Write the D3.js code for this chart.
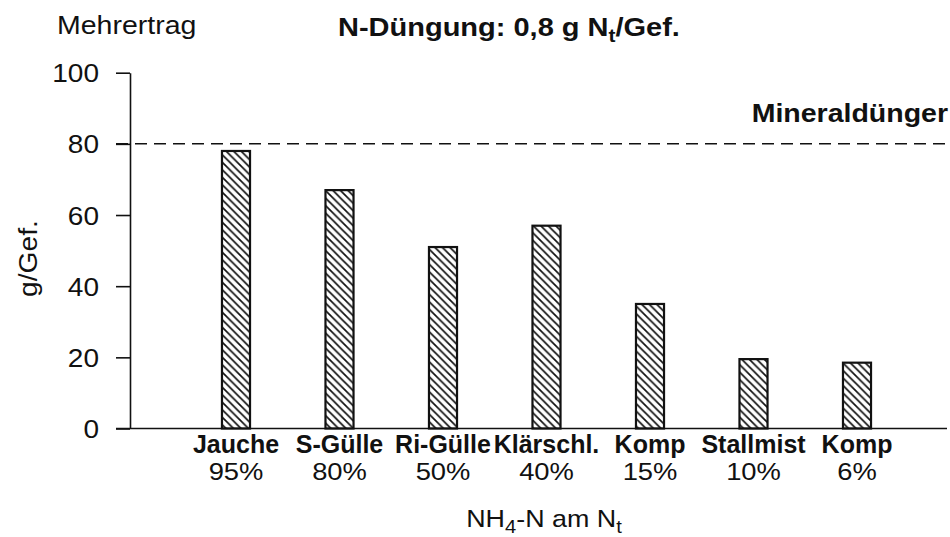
<!DOCTYPE html>
<html>
<head>
<meta charset="utf-8">
<script src="https://cdn.jsdelivr.net/npm/d3@7/dist/d3.min.js"></script>
<style>
  html, body { margin: 0; padding: 0; background: #fff; }
  svg { display: block; font-family: "Liberation Sans", Arial, Helvetica, sans-serif; }
</style>
</head>
<body>
<svg id="chart" width="950" height="537"></svg>
<script>
// Mehrertrag je Gefäß bei N-Düngung mit verschiedenen organischen Düngern
const categories = ["Jauche", "S-Gülle", "Ri-Gülle", "Klärschl.", "Komp", "Stallmist", "Komp"];
const nh4Shares = ["95%", "80%", "50%", "40%", "15%", "10%", "6%"];
const yieldGain = [78, 67, 51, 57, 35, 19.5, 18.5];
const mineralRef = 80;
const yTicks = [0, 20, 40, 60, 80, 100];

const svg = d3.select("#chart");
const INK = "#111";

const y = d3.scaleLinear().domain([0, 100]).range([428.5, 72.7]);
const x = d3.scaleBand()
  .domain(d3.range(categories.length))
  .range([184.25, 908.75])
  .paddingInner(0.729)
  .paddingOuter(0.3645);

// diagonal hatching for the bars
const H = 7.5;
const defs = svg.append("defs");
const pat = defs.append("pattern")
  .attr("id", "hatch")
  .attr("patternUnits", "userSpaceOnUse")
  .attr("width", H).attr("height", H);
pat.append("rect").attr("width", H).attr("height", H).attr("fill", "#fff");
pat.append("path")
  .attr("d", `M-1,-1 L${H + 1},${H + 1} M-1,${H - 1} L1,${H + 1} M${H - 1},-1 L${H + 1},1`)
  .attr("stroke", INK).attr("stroke-width", 1.7).attr("fill", "none");

// text helper with horizontal scaling
function label(parent, px, py, anchor, size, weight, sx) {
  return parent.append("text")
    .attr("transform", `translate(${px},${py}) scale(${sx},1)`)
    .attr("text-anchor", anchor)
    .attr("font-size", size)
    .attr("font-weight", weight)
    .attr("fill", INK);
}

// y axis
const yAxis = svg.append("g")
  .attr("transform", "translate(130,0)")
  .call(d3.axisLeft(y).tickValues(yTicks).tickSize(14).tickSizeOuter(0).tickPadding(0));
yAxis.select(".domain").attr("stroke", INK).attr("stroke-width", 1.6);
yAxis.selectAll(".tick line").attr("stroke", INK).attr("stroke-width", 1.6);
yAxis.selectAll(".tick text")
  .attr("x", 0).attr("dy", null)
  .attr("transform", "translate(-31,9) scale(1.12,1)")
  .attr("font-size", 25)
  .attr("font-family", "Liberation Sans, Arial, sans-serif")
  .attr("fill", INK);

// bars
svg.append("g").selectAll("rect")
  .data(yieldGain)
  .join("rect")
  .attr("x", (d, i) => x(i))
  .attr("y", d => y(d))
  .attr("width", x.bandwidth())
  .attr("height", d => y(0) - y(d))
  .attr("fill", "url(#hatch)")
  .attr("stroke", INK)
  .attr("stroke-width", 2.2);

// x axis baseline
svg.append("line")
  .attr("x1", 116).attr("x2", 947)
  .attr("y1", y(0)).attr("y2", y(0))
  .attr("stroke", INK).attr("stroke-width", 1.6);

// mineral fertilizer reference
svg.append("line")
  .attr("x1", 116).attr("x2", 950)
  .attr("y1", y(mineralRef)).attr("y2", y(mineralRef))
  .attr("stroke", INK).attr("stroke-width", 1.5)
  .attr("stroke-dasharray", "12,7");
label(svg, 948, 122, "end", 25, "bold", 1.14).text("Mineraldünger");

// category labels and NH4 shares
categories.forEach((c, i) => {
  const cx = x(i) + x.bandwidth() / 2;
  label(svg, cx, 453, "middle", 25, "bold", 1.0).text(c);
  label(svg, cx, 480, "middle", 24, "normal", 1.14).text(nh4Shares[i]);
});

// headings
label(svg, 57, 34, "start", 25, "normal", 1.14).text("Mehrertrag");

const title = label(svg, 338, 36, "start", 25, "bold", 1.16);
title.append("tspan").text("N-Düngung: 0,8 g N");
title.append("tspan").attr("font-size", 18).attr("dy", 6).text("t");
title.append("tspan").attr("dy", -6).text("/Gef.");

svg.append("text")
  .attr("transform", "translate(37,258.5) rotate(-90) scale(1.13,1)")
  .attr("text-anchor", "middle")
  .attr("font-size", 25)
  .attr("fill", INK)
  .text("g/Gef.");

const xt = label(svg, 544, 527, "middle", 24, "normal", 1.12);
xt.append("tspan").text("NH");
xt.append("tspan").attr("font-size", 18).attr("dy", 6).text("4");
xt.append("tspan").attr("dy", -6).text("-N am N");
xt.append("tspan").attr("font-size", 18).attr("dy", 6).text("t");
</script>
</body>
</html>
